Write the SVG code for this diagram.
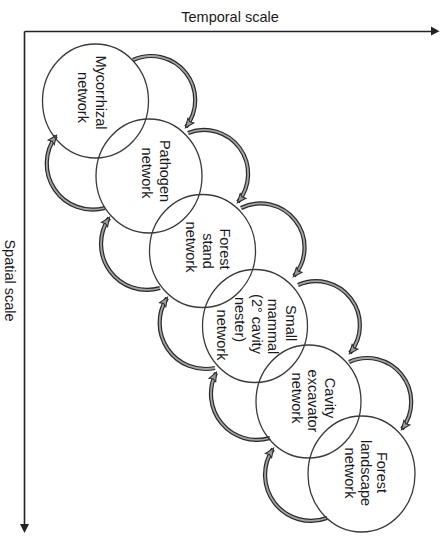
<svg xmlns="http://www.w3.org/2000/svg" width="443" height="538" viewBox="0 0 443 538">
<style>
  .bg { fill: #ffffff; }
  .axis { stroke: #222; stroke-width: 1.6; fill: none; }
  .axhead { fill: #222; }
  .node { fill: none; stroke: #3a3a3a; stroke-width: 1.3; }
  .lbl { font-family: "Liberation Sans", Arial, sans-serif; font-size: 14.5px; fill: #1a1a1a; text-anchor: middle; }
  .arcO { fill: none; stroke: #2a2a2a; stroke-width: 4.2; }
  .arcI { fill: none; stroke: #a3a3a3; stroke-width: 1.8; marker-end: url(#ah); }
</style>
<defs>
  <marker id="ah" viewBox="-10 -6 12 12" markerWidth="12" markerHeight="12" refX="0" refY="0" orient="auto" markerUnits="userSpaceOnUse" overflow="visible">
    <path d="M1,0 L-8,-3.8 L-6.5,0 L-8,3.8 Z" fill="#9a9a9a" stroke="#2a2a2a" stroke-width="1" stroke-linejoin="miter"/>
  </marker>
</defs>
<rect class="bg" x="0" y="0" width="443" height="538"/>

<g id="axes">
  <line class="axis" x1="24.5" y1="31.5" x2="432" y2="31.5"/>
  <polygon class="axhead" points="431,26.5 439.5,31.2 431,35.5"/>
  <line class="axis" x1="24.5" y1="31.5" x2="24.5" y2="525"/>
  <polygon class="axhead" points="20,524 24.5,533 29,524"/>
  <text class="lbl" x="230" y="22">Temporal scale</text>
  <text class="lbl" transform="translate(5,280.5) rotate(90)" x="0" y="0">Spatial scale</text>
</g>

<g id="connectors">
  <path class="arcO" d="M133,60 A44 44 0 0 1 186,127"/>
  <path class="arcI" d="M133,60 A44 44 0 0 1 186,127"/>
  <path class="arcO" d="M188,133 A44 44 0 0 1 238,202"/>
  <path class="arcI" d="M188,133 A44 44 0 0 1 238,202"/>
  <path class="arcO" d="M241,208 A44 44 0 0 1 294,276"/>
  <path class="arcI" d="M241,208 A44 44 0 0 1 294,276"/>
  <path class="arcO" d="M298,285 A44 44 0 0 1 350,353"/>
  <path class="arcI" d="M298,285 A44 44 0 0 1 350,353"/>
  <path class="arcO" d="M349,362 A44 44 0 0 1 402,429"/>
  <path class="arcI" d="M349,362 A44 44 0 0 1 402,429"/>

  <path class="arcO" d="M105,208 A46 46 0 0 1 56,136"/>
  <path class="arcI" d="M105,208 A46 46 0 0 1 56,136"/>
  <path class="arcO" d="M160,288 A46 46 0 0 1 109,218"/>
  <path class="arcI" d="M160,288 A46 46 0 0 1 109,218"/>
  <path class="arcO" d="M215,368 A46 46 0 0 1 167,298"/>
  <path class="arcI" d="M215,368 A46 46 0 0 1 167,298"/>
  <path class="arcO" d="M270,438 A46 46 0 0 1 216,373"/>
  <path class="arcI" d="M270,438 A46 46 0 0 1 216,373"/>
  <path class="arcO" d="M327,518 A46 46 0 0 1 273,449"/>
  <path class="arcI" d="M327,518 A46 46 0 0 1 273,449"/>
</g>

<g id="mycorrhizal">
  <ellipse class="node" cx="95.5" cy="101" rx="53" ry="57"/>
  <text class="lbl" transform="translate(96,92.5) rotate(90)">Mycorrhizal</text>
  <text class="lbl" transform="translate(77.5,97.5) rotate(90)">network</text>
</g>
<g id="pathogen">
  <ellipse class="node" cx="149" cy="176" rx="53" ry="57"/>
  <text class="lbl" transform="translate(159.5,171) rotate(90)">Pathogen</text>
  <text class="lbl" transform="translate(141.5,173) rotate(90)">network</text>
</g>
<g id="forest-stand">
  <ellipse class="node" cx="202.5" cy="251" rx="53" ry="56.5"/>
  <text class="lbl" transform="translate(219.5,249) rotate(90)">Forest</text>
  <text class="lbl" transform="translate(202.5,251) rotate(90)">stand</text>
  <text class="lbl" transform="translate(186,247) rotate(90)">network</text>
</g>
<g id="small-mammal">
  <ellipse class="node" cx="255" cy="326" rx="52.5" ry="56.5"/>
  <text class="lbl" transform="translate(286,323) rotate(90)">Small</text>
  <text class="lbl" transform="translate(268,326.5) rotate(90)">mammal</text>
  <text class="lbl" transform="translate(251.5,324) rotate(90)">(2° cavity</text>
  <text class="lbl" transform="translate(235,319.5) rotate(90)">nester)</text>
  <text class="lbl" transform="translate(216.5,335) rotate(90)">network</text>
</g>
<g id="cavity-excavator">
  <ellipse class="node" cx="308.5" cy="401.5" rx="52.5" ry="56.5"/>
  <text class="lbl" transform="translate(324.5,398) rotate(90)">Cavity</text>
  <text class="lbl" transform="translate(308,401) rotate(90)">excavator</text>
  <text class="lbl" transform="translate(291.5,398) rotate(90)">network</text>
</g>
<g id="forest-landscape">
  <ellipse class="node" cx="361.5" cy="474" rx="53.5" ry="58"/>
  <text class="lbl" transform="translate(376.5,472.5) rotate(90)">Forest</text>
  <text class="lbl" transform="translate(361,473) rotate(90)">landscape</text>
  <text class="lbl" transform="translate(344.5,473) rotate(90)">network</text>
</g>
</svg>
